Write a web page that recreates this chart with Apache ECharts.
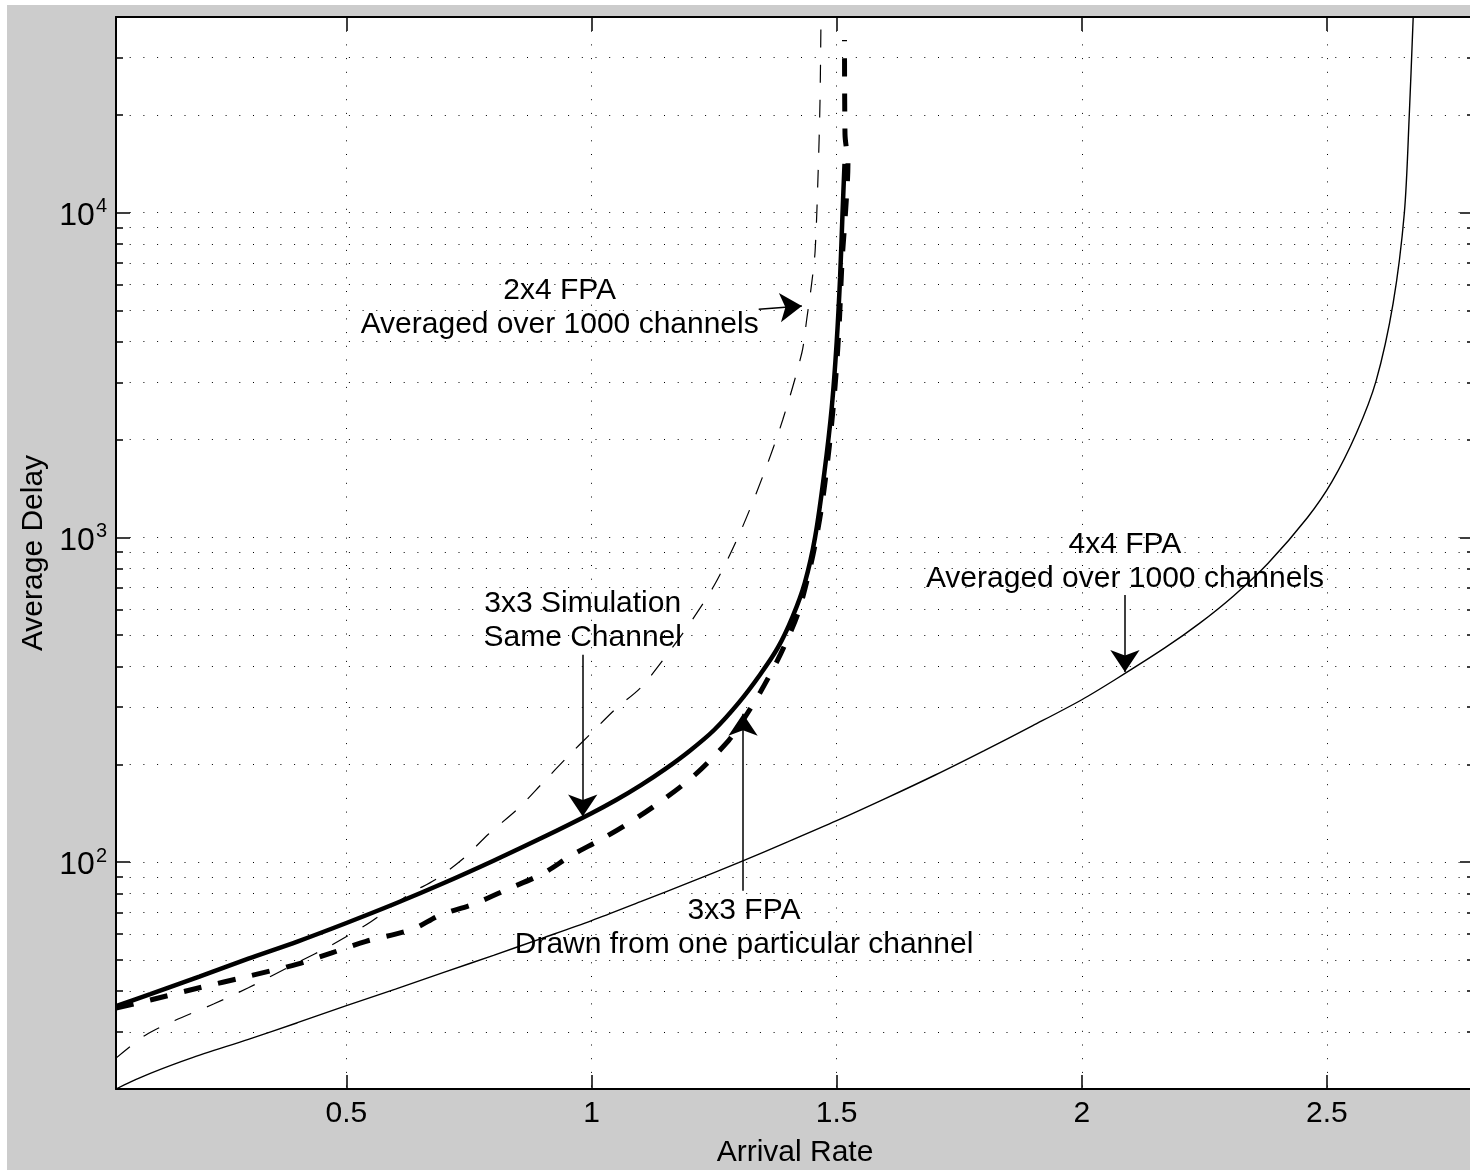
<!DOCTYPE html>
<html>
<head>
<meta charset="utf-8">
<script src="https://cdn.jsdelivr.net/npm/echarts@6/dist/echarts.min.js"></script>
<style>
html, body { margin: 0; padding: 0; background: #fff; }
#main { position: absolute; left: 7px; top: 5px; width: 1463px; height: 1165px; background: #cccccc; }
</style>
</head>
<body>
<div id="main"></div>
<script>
// arrival rate / average delay
var rate44 = [0.03, 0.06, 0.1, 0.18, 0.3, 0.4, 0.5, 0.6, 0.7, 0.8, 0.9, 1.0, 1.1, 1.2, 1.3, 1.4, 1.5, 1.6, 1.7, 1.8, 1.9, 2.0, 2.07, 2.17, 2.24, 2.31, 2.38, 2.46, 2.51, 2.56, 2.6, 2.635, 2.658, 2.668, 2.676];
var delay44 = [20, 21.05, 22.35, 24.8, 28.45, 32, 36.1, 40.6, 45.8, 51.6, 58.3, 66, 75.5, 86.5, 99.5, 115.3, 134, 157, 185, 220, 263, 316, 366, 457, 543, 661, 832, 1148, 1480, 2090, 3020, 5250, 10000, 20000, 40000];

var rate24 = [0.03, 0.09, 0.15, 0.23, 0.3, 0.4, 0.47, 0.55, 0.63, 0.68, 0.74, 0.79, 0.85, 0.9, 0.95, 1.0, 1.05, 1.1, 1.15, 1.2, 1.25, 1.3, 1.35, 1.39, 1.429, 1.439, 1.449, 1.456, 1.462, 1.466, 1.468];
var delay24 = [24.9, 29.3, 32.5, 36.6, 41, 49, 55.5, 65.5, 80, 88, 103, 122, 146, 175, 210, 250, 297, 344, 427, 542, 710, 1010, 1550, 2300, 3700, 4700, 6050, 7600, 13000, 22000, 40000];

var rate33s = [0.03, 0.1, 0.2, 0.3, 0.4, 0.5, 0.6, 0.7, 0.8, 0.9, 1.0, 1.05, 1.1, 1.15, 1.2, 1.25, 1.3, 1.344, 1.38, 1.41, 1.435, 1.456, 1.475, 1.49, 1.5, 1.507, 1.512, 1.516];
var delay33s = [36, 39.2, 44.4, 50.4, 56.9, 64.9, 74.5, 86.3, 100.9, 118.9, 141.3, 155.2, 172.2, 193.2, 219.8, 255, 309, 378, 457, 569, 724, 1000, 1585, 2512, 3981, 6310, 10000, 14125];

var rate33f = [0.03, 0.1, 0.2, 0.3, 0.4, 0.47, 0.54, 0.6, 0.64, 0.69, 0.76, 0.83, 0.9, 0.96, 1.02, 1.08, 1.15, 1.21, 1.28, 1.31, 1.345, 1.385, 1.42, 1.44, 1.455, 1.47, 1.485, 1.497, 1.505, 1.511, 1.518, 1.523, 1.517, 1.516];
var delay33f = [35.5, 37.6, 41, 44.5, 48.5, 52.5, 57, 60, 62.5, 68.5, 74.3, 82.6, 92, 105, 117.5, 133, 157, 185, 237, 275, 335, 435, 577, 741, 933, 1259, 1905, 2951, 4467, 7079, 10000, 14125, 17400, 34000];

var rateTicks = [0.5, 1, 1.5, 2, 2.5];
var delayMajor = [100, 1000, 10000];
var delayAll = [20, 30, 40, 50, 60, 70, 80, 90, 100, 200, 300, 400, 500, 600, 700, 800, 900,
    1000, 2000, 3000, 4000, 5000, 6000, 7000, 8000, 9000, 10000, 20000, 30000, 40000];

// annotations (data coordinates)
var noteText = ['2x4 FPA\nAveraged over 1000 channels', '3x3 Simulation\nSame Channel',
    '3x3 FPA\nDrawn from one particular channel', '4x4 FPA\nAveraged over 1000 channels'];
var noteRate = [0.935, 0.982, 1.311, 2.088];
var noteDelay = [5080, 552, 62.7, 843];
var arrowFrom = [[1.341, 5040], [0.982, 435], [1.309, 81.5], [2.088, 664]];
var arrowTo = [[1.429, 5150], [0.982, 138], [1.309, 286], [2.088, 385]];

var font = "'Liberation Sans', Arial, Helvetica, sans-serif";
var dots = [1, 12.7];

function zip(xs, ys) {
    return xs.map(function(x, i) { return [x, ys[i]]; });
}

var myChart = echarts.init(document.getElementById('main'));

function xAxisDef(pos) {
    return {
	type : 'value',
	position : pos,
	min : 0.03,
	max : 2.8,
	axisLine : { show : true, onZero : false, lineStyle : { color : '#000', width : 2 } },
	axisTick : { show : true, inside : true, length : 14, customValues : rateTicks,
	    lineStyle : { color : '#000', width : 1.5 } },
	axisLabel : { show : pos === 'bottom', customValues : rateTicks, fontSize : 30, margin : 10,
	    color : '#000', fontFamily : font },
	splitLine : { show : pos === 'bottom', lineStyle : { color : '#000', width : 1, type : dots } }
    };
}

function yAxisDef(pos, major) {
    return {
	type : 'log',
	logBase : 10,
	position : pos,
	min : 20,
	max : 40000,
	axisLine : { show : major, onZero : false, lineStyle : { color : '#000', width : 2 } },
	axisTick : { show : true, inside : true, length : major ? 14 : 7,
	    customValues : major ? delayMajor : delayAll,
	    lineStyle : { color : '#000', width : 1.5 } },
	axisLabel : {
	    show : major && pos === 'left',
	    customValues : delayMajor,
	    margin : 9,
	    formatter : function(v) {
		return '{b|10}{s|' + Math.round(Math.log10(v)) + '}';
	    },
	    rich : {
		b : { fontSize : 32, lineHeight : 32, padding : [ 7, 1, 0, 0 ], color : '#000', fontFamily : font },
		s : { fontSize : 20, lineHeight : 20, verticalAlign : 'top', color : '#000', fontFamily : font }
	    }
	},
	splitLine : { show : !major && pos === 'left', lineStyle : { color : '#000', width : 1, type : dots } }
    };
}

var xBottom = xAxisDef('bottom');
xBottom.name = 'Arrival Rate';
xBottom.nameLocation = 'middle';
xBottom.nameGap = 49;
xBottom.nameTextStyle = { fontSize : 30, color : '#000', fontFamily : font };

var yLeft = yAxisDef('left', true);
yLeft.name = 'Average Delay';
yLeft.nameLocation = 'middle';
yLeft.nameGap = 66;
yLeft.nameRotate = 90;
yLeft.nameTextStyle = { fontSize : 30, color : '#000', fontFamily : font };

function lineSeries(name, data, width, dash) {
    return {
	name : name,
	type : 'line',
	data : data,
	symbol : 'none',
	smooth : 0.3,
	clip : true,
	lineStyle : { color : '#000', width : width, type : dash ? [ 18, 17 ] : 'solid', cap : 'butt' },
	z : 3
    };
}

myChart.setOption({
    animation : false,
    grid : {
	left : 109,
	top : 12,
	width : 1358,
	height : 1072,
	show : true,
	backgroundColor : '#fff',
	borderWidth : 0,
	containLabel : false,
	outerBoundsMode : 'none'
    },
    xAxis : [ xBottom, xAxisDef('top') ],
    yAxis : [ yLeft, yAxisDef('left', false), yAxisDef('right', true), yAxisDef('right', false) ],
    series : [
	lineSeries('4x4 FPA', zip(rate44, delay44), 1.4, false),
	lineSeries('2x4 FPA', zip(rate24, delay24), 1.2, true),
	lineSeries('3x3 Simulation', zip(rate33s, delay33s), 4.5, false),
	lineSeries('3x3 FPA', zip(rate33f, delay33f), 5, true),
	{
	    name : 'notes',
	    type : 'line',
	    data : [],
	    z : 5,
	    markLine : {
		silent : true,
		symbol : [ 'none', 'arrow' ],
		symbolSize : 22,
		label : { show : false },
		lineStyle : { color : '#000', width : 1.5, type : 'solid' },
		data : arrowFrom.map(function(f, i) {
		    return [ { coord : f }, { coord : arrowTo[i] } ];
		})
	    },
	    markPoint : {
		silent : true,
		symbol : 'circle',
		symbolSize : 0,
		label : {
		    show : true,
		    position : 'inside',
		    formatter : '{b}',
		    fontSize : 30,
		    lineHeight : 34,
		    align : 'center',
		    color : '#000',
		    fontFamily : font
		},
		data : noteText.map(function(t, i) {
		    return { name : t, coord : [ noteRate[i], noteDelay[i] ] };
		})
	    }
	}
    ]
});
</script>
</body>
</html>
